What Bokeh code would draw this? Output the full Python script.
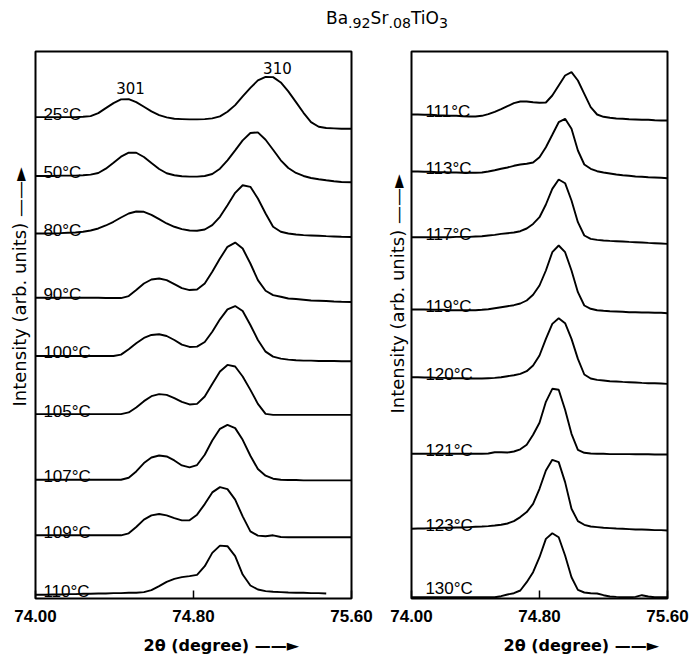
import numpy as np
from bokeh.plotting import figure
from bokeh.models import Range1d, Label, FixedTicker, NumeralTickFormatter, Div, Title
from bokeh.layouts import row, column
from bokeh.embed import file_html
from bokeh.resources import INLINE

nan = float("nan")

# ---------------- data ----------------
# 2-theta sample positions (degree) for the left-hand panel
left_two_theta = [74.000, 74.049, 74.087, 74.126, 74.164, 74.202, 74.241, 74.279, 74.318, 74.356,
                  74.395, 74.433, 74.472, 74.510, 74.549, 74.587, 74.626, 74.664, 74.703, 74.741,
                  74.780, 74.818, 74.857, 74.895, 74.934, 74.972, 75.011, 75.049, 75.088, 75.126,
                  75.165, 75.203, 75.242, 75.280, 75.319, 75.357, 75.395, 75.434, 75.472, 75.511,
                  75.549, 75.600]
# 2-theta sample positions (degree) for the right-hand panel
right_two_theta = [74.00, 74.04, 74.08, 74.12, 74.16, 74.20, 74.24, 74.28, 74.32, 74.36,
                   74.40, 74.44, 74.48, 74.52, 74.56, 74.60, 74.64, 74.68, 74.72, 74.76,
                   74.80, 74.84, 74.88, 74.92, 74.96, 75.00, 75.04, 75.08, 75.12, 75.16,
                   75.20, 75.24, 75.28, 75.32, 75.36, 75.40, 75.44, 75.48, 75.52, 75.56,
                   75.60]

left_temps = ["25°C", "50°C", "80°C", "90°C", "100°C", "105°C", "107°C", "109°C", "110°C"]
left_offsets = [482.3, 423.3, 365.7, 301.3, 243.0, 184.7, 119.0, 63.3, 3.7]

I_25 = [0, 0, 0, 0, 0, 0, 0.3, 1, 4, 9, 14, 17.7, 18, 15, 10.3, 5.7, 2, -0.3, -1.7, -2,
        -2.3, -2.3, -2, -1.3, 0.7, 5.3, 12, 20.7, 29.3, 36.7, 40.3, 40, 34.7, 25.7, 15, 4.3,
        -5, -9.7, -11, -11.3, -11.7, -11.7]
I_50 = [0, 0, 0, 0.3, 0.3, 0.3, 0.7, 1.3, 3, 7.3, 13.3, 19.3, 23.3, 23.3, 19, 13, 7, 2.7, 0.7, -0.3,
        -0.7, -0.7, 0, 2, 7.3, 15.7, 25.7, 35.7, 43, 43.7, 36.3, 26.3, 15.7, 8, 3, 0,
        -2, -3.3, -4.3, -5.3, -6, -6.3]
I_80 = [0, 0, 0, 0.3, 0.7, 1, 1.7, 3, 5, 8, 11.7, 16, 20, 22, 21.7, 18.7, 14.3, 10, 6.7, 4.3,
        3, 2.7, 4, 8.3, 16.7, 28.3, 40.7, 48.3, 46.7, 35, 20, 6.7, 1.7, 0, -1, -1.7,
        -2, -2.3, -2.7, -3, -3.3, -3.5]
I_90 = [0, 0, 0, 0, 0, 0, 0, 0, 0, -0.3, -0.3, -0.3, 1.7, 7.7, 14.3, 18.3, 19.3, 17.7, 13.7, 9.7,
        7.7, 8.3, 14.3, 26, 39.3, 51, 55.3, 49.3, 34.3, 17.7, 7, 2.7, 1, -0.7, -1.3, -2,
        -2.7, -3, -3.3, -3.7, -4, -4.2]
I_100 = [0, 0, 0, 0, 0, 0, 0, 0, 0, 0, 0, 1.3, 6.7, 12.7, 18, 21, 21.7, 20, 16, 11.3,
         9, 9.3, 14, 24.3, 36.7, 46.7, 50, 45, 31, 16, 4.3, -0.7, -2.7, -3.7, -4.3, -4.7,
         -4.7, -5, -5, -5, -5.3, -5.3]
I_105 = [0, 0, 0, 0, 0, 0, 0, 0, 0, 0, 0, 0, 1.7, 6.7, 13, 18, 20, 19.3, 16, 12.3,
         9.7, 10.3, 17.7, 30.3, 42.7, 49.3, 47.7, 37.7, 24.3, 10.3, 0.3, -0.7, -0.7, -0.7, -0.7, -0.7,
         -0.7, -0.7, -0.7, -0.7, -0.7, -0.7]
I_107 = [0, 0, 0, 0, 0, 0, 0, 0, 0, 0, 0, 0, 2, 8.3, 16.7, 22.3, 24.3, 23.3, 19.3, 14.3,
         12.3, 14.7, 25, 39.3, 51, 55, 51.7, 40, 24, 10.7, 4, 1, 0, -0.3, -0.3, -0.7,
         -0.7, -0.7, -0.7, -0.7, -0.7, -0.7]
I_109 = [0, 0, 0, 0, 0, 0, 0, 0, 0, 0, 0, 0, 2, 8.3, 15.7, 20, 21.3, 20, 17.3, 15,
         15, 20.7, 31.3, 43, 48.3, 46.3, 35.7, 19, 4, -0.3, -1, 0, -1.7, -2, -2, -2,
         -2, -2, -2, -2, -2, -2]
I_110 = [0, 0, 0.3, 0.3, 0.7, 0.7, 1, 1, 1.3, 1.3, 1.7, 1.7, 2, 2, 2.7, 4.7, 8.7, 13, 16, 17.7,
         18.7, 20, 28.7, 42, 49.3, 48.7, 38.7, 20.3, 9.3, 5.3, 3.7, 3, 2.7, 2.3, 2, 2,
         1.7, 1.7, 1.3, nan, nan, nan]
left_intensity = [I_25, I_50, I_80, I_90, I_100, I_105, I_107, I_109, I_110]

right_temps = ["111°C", "113°C", "117°C", "119°C", "120°C", "121°C", "123°C", "130°C"]
right_offsets = [484.0, 427.0, 361.3, 289.0, 221.3, 144.7, 69.7, 1.3]

I_111 = [0, 0, -0.3, -0.3, -0.7, -1, -1.3, -1.3, -1.7, -2, -2, -1.3, 0.3, 2.7, 5.3, 8.3, 11.3, 13, 13, 12.3,
         11.7, 12, 19, 29, 39, 42.3, 34, 20.7, 7.3, 0, -2.3, -3.3, -4, -4.3, -4.7, -5,
         -5.3, -5.3, -5.7, -6, -6]
I_113 = [0, 0, -0.3, -0.3, -0.7, -0.7, -1, -1, -1.3, -1.3, -1.3, -1, 0, 1.3, 2.7, 4, 5.7, 7, 7.7, 9,
         14.3, 24.3, 36.7, 49.3, 52.7, 42.7, 21, 7, 2.7, 0.3, -1, -2, -3, -3.7, -4.3, -5,
         -5.3, -5.7, -6, -6.3, -6.7]
I_117 = [0, 0, 0, 0, 0, 0, 0, 0.3, 0.3, 0.3, 0.7, 1, 1.7, 2.3, 3.3, 4, 4.7, 6, 8.7, 13.3,
         20, 32.7, 48.3, 57.7, 54, 36.7, 15, 1.7, -1.7, -2.7, -3.3, -3.7, -4, -4.3, -4.7, -5,
         -5.3, -5.7, -6, -6.3, -6.7]
I_119 = [0, 0, 0, -0.3, -0.3, -0.3, -0.7, -0.7, -0.7, -0.7, -0.7, -0.3, 0.3, 1.3, 2.3, 3.3, 4.3, 6, 9, 14.7,
         24, 39, 57.3, 64, 57.3, 39, 17.3, 4, 0.7, -0.7, -1.3, -1.7, -2, -2.3, -2.7, -2.7,
         -3, -3, -3.3, -3.3, -3.7]
I_120 = [0, 0, -0.3, -0.3, -0.7, -0.7, -1, -1, -1, -1.3, -1.3, -1.3, -1, -0.7, 0, 1, 2, 3.3, 6, 11.7,
         21.7, 38.3, 53.3, 59, 54, 38.3, 18.3, 2.7, -1.3, -2.7, -3.3, -4, -4.3, -4.7, -5, -5.3,
         -5.7, -6, -6, -6.3, -6.7]
I_121 = [0, 0, 0, 0, 0, 0, 0, 0, 0, 0, 0, 0, 0.3, 1.5, 1.5, 1.3, 2.3, 4.5, 9, 19,
         31, 52, 65, 64, 44, 20, 4, 1, 0.3, 0, 0, -0.3, -0.3, -0.3, -0.3, -0.5,
         -0.5, -0.5, -0.7, -0.7, -0.7]
I_123 = [0, 0.3, 0.3, 0.7, 0.7, 1, 1, 1.3, 1.3, 1.7, 2, 2.3, 2.7, 3.3, 4, 5.3, 7.7, 11.7, 16.7, 25,
         40, 58.3, 69, 66.7, 46.7, 20, 7.7, 4, 2.3, 1.7, 1, 0.7, 0.3, 0, -0.3, -0.7,
         -0.7, -1, -1.3, -1.3, -1.7]
I_130 = [0, 0, 0, 0, 0, 0, 0, 0, 0, 0, 0, 0, 0, 0, 1, 2.7, 4, 6.7, 15, 25,
         40, 58.3, 64, 60, 41.7, 20, 7.3, 4.7, 4, 3.7, 2, 0.7, 0.3, 0, 0, 0.3,
         2, 0.7, 0, 0, 0]
right_intensity = [I_111, I_113, I_117, I_119, I_120, I_121, I_123, I_130]

x_ticks = [74.0, 74.8, 75.6]
peak_names = ["301", "310"]
title_html = "Ba<sub>.92</sub>Sr<sub>.08</sub>TiO<sub>3</sub>"
y_title = "Intensity (arb. units) \u2014\u2014\u25BA"
x_title = "2\u03b8 (degree) \u2014\u2014\u25BA"

# ---------------- layout ----------------
TITLE_H = 40
XT_H = 25
FIG_H = 656 - TITLE_H - XT_H


def make_panel(width, b_left, b_right, b_bottom, ymax):
    p = figure(width=width, height=FIG_H, title=None,
               x_range=Range1d(74.0, 75.6), y_range=Range1d(0, ymax),
               output_backend="svg", toolbar_location=None, y_axis_location=None,
               min_border_left=b_left, min_border_right=b_right,
               min_border_top=11, min_border_bottom=b_bottom,
               background_fill_color="white", border_fill_color="white")
    p.xgrid.visible = False
    p.ygrid.visible = False
    p.outline_line_color = "black"
    p.outline_line_width = 2
    p.outline_line_alpha = 1.0
    ax = p.xaxis[0]
    ax.ticker = FixedTicker(ticks=x_ticks)
    ax.formatter = NumeralTickFormatter(format="0.00")
    ax.axis_line_color = None
    ax.major_tick_in = 8
    ax.major_tick_out = 0
    ax.major_tick_line_width = 1.5
    ax.major_tick_line_color = "black"
    ax.minor_tick_line_color = None
    ax.major_label_standoff = 11
    ax.major_label_text_font = "Liberation Sans"
    ax.major_label_text_font_size = "17px"
    ax.major_label_text_font_style = "bold"
    ax.major_label_text_color = "black"
    return p


def add_text(p, x, y, text, size, font="DejaVu Sans", style="normal", align="left",
             baseline="alphabetic"):
    p.add_layout(Label(x=x, y=y, text=text, text_font=font, text_font_size=size,
                       text_font_style=style, text_align=align, text_baseline=baseline,
                       text_color="black"))


def add_side_title(p, text, offset, standoff, size):
    p.add_layout(Title(text=text, align="left", offset=offset, standoff=standoff,
                       text_font="DejaVu Sans", text_font_size=size, text_font_style="normal",
                       text_color="black"), "left")


# left panel: frame 35..351 px, top 51, bottom 599
p1 = make_panel(380, 35, 29, 32, 548)
for off, inten, lab in zip(left_offsets, left_intensity, left_temps):
    y = np.array(inten, dtype=float) + off
    p1.line(np.array(left_two_theta), y, line_color="black", line_width=1.9)
    add_text(p1, 74.04, off + 3, lab, "17px", font="Liberation Sans")
add_text(p1, 74.481, 511.5, peak_names[0], "15px", align="center", baseline="middle")
add_text(p1, 75.225, 531.5, peak_names[1], "15px", align="center", baseline="middle")
add_side_title(p1, y_title, 192, 12, "18px")

# right panel: frame 410..667 px, top 51, bottom 598
p2 = make_panel(314, 30, 27, 33, 547)
for k, (off, inten, lab) in enumerate(zip(right_offsets, right_intensity, right_temps)):
    y = np.array(inten, dtype=float) + off
    p2.line(np.array(right_two_theta), y, line_color="black", line_width=1.9)
    gap = 9 if k == len(right_temps) - 1 else 3
    add_text(p2, 74.087, off + gap, lab, "17px", font="Liberation Sans")
add_side_title(p2, y_title, 185, 8, "18px")

# strip under the panels carrying the two 2-theta axis titles (pixel coordinates)
xt = figure(width=694, height=XT_H, title=None, x_range=Range1d(0, 694), y_range=Range1d(0, XT_H),
            output_backend="svg", toolbar_location=None, x_axis_location=None, y_axis_location=None,
            min_border_left=0, min_border_right=0, min_border_top=0, min_border_bottom=0,
            background_fill_color="white", border_fill_color="white")
xt.outline_line_color = None
xt.xgrid.visible = False
xt.ygrid.visible = False
add_text(xt, 143, 11, x_title, "16px", style="bold", baseline="middle")
add_text(xt, 503, 11, x_title, "16px", style="bold", baseline="middle")

title_div = Div(
    text=("<div style=\"margin-left:326px;margin-top:8px;font-family:'DejaVu Sans';"
          "font-size:17px;line-height:20px;color:black;white-space:nowrap;\">"
          + title_html + "</div>"),
    width=694, height=TITLE_H, margin=(0, 0, 0, 0))

layout = column(title_div, row(p1, p2, spacing=0), xt, spacing=0)

open("out.html", "w").write(file_html(layout, INLINE))
